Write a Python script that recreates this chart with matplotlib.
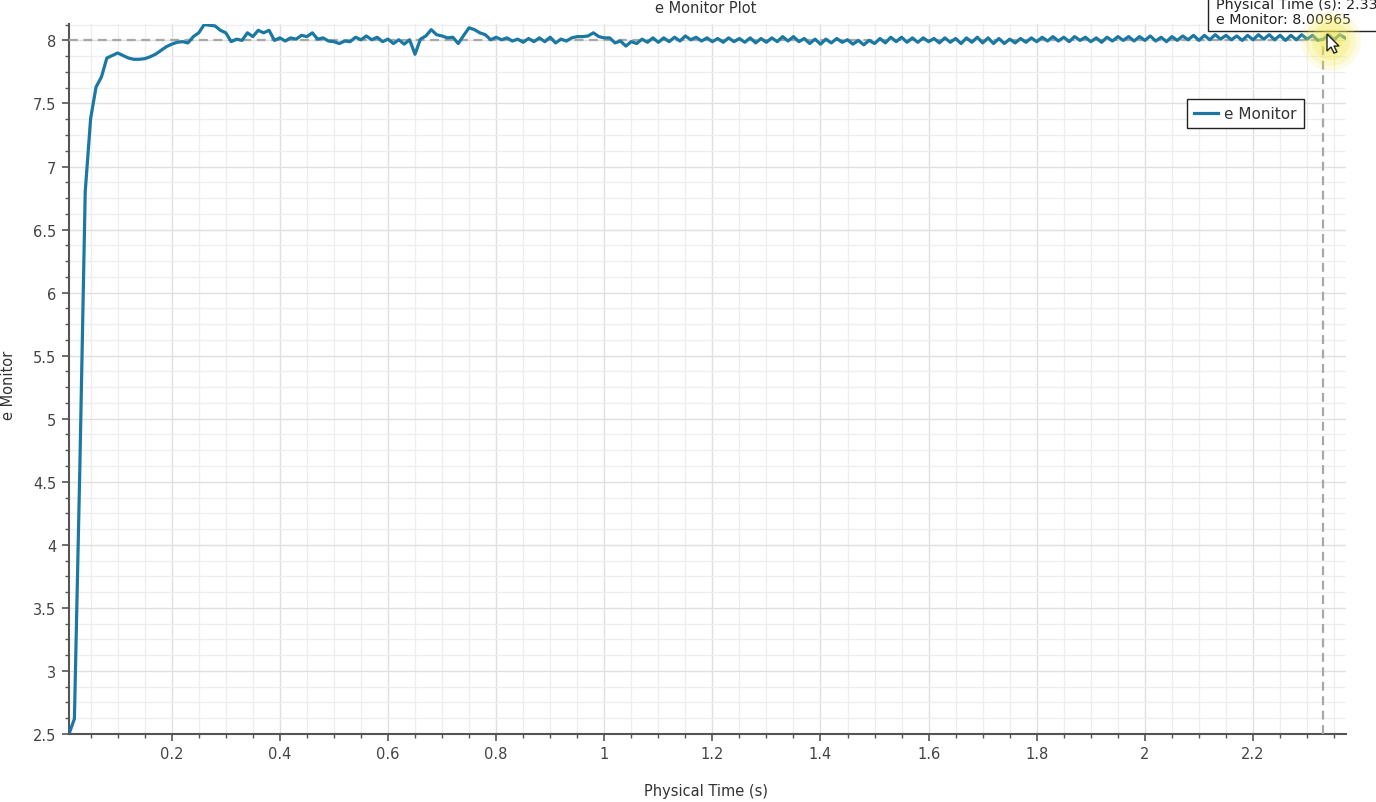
import matplotlib
matplotlib.use("Agg")
import matplotlib.pyplot as plt
from matplotlib.ticker import MultipleLocator, FuncFormatter
from matplotlib.patches import Circle, Rectangle, Polygon
from matplotlib.transforms import IdentityTransform

# Monitor samples, one per time step (dt = 0.01 s, first sample at 0.01 s)
time_step = 0.01
ramp_up = [2.50, 2.62, 4.60, 6.80, 7.38, 7.63, 7.71, 7.86, 7.88, 7.90,
           7.88, 7.86, 7.85, 7.85, 7.855, 7.87, 7.89, 7.92, 7.95, 7.97,
           7.985, 7.99, 7.98, 8.03, 8.06, 8.125, 8.12, 8.115, 8.08, 8.06,
           7.99, 8.01, 8.00, 8.06, 8.03, 8.08, 8.06, 8.08, 8.00, 8.02]
early_wobble = [7.995, 8.02, 8.01, 8.04, 8.03, 8.06, 8.01, 8.02, 7.995, 7.99,
                7.975, 7.995, 7.99, 8.025, 8.005, 8.035, 8.005, 8.025, 7.99, 8.01,
                7.975, 8.005, 7.97, 8.005, 7.89, 8.01, 8.035, 8.085, 8.045, 8.035,
                8.02, 8.025, 7.975, 8.04, 8.10, 8.085, 8.06, 8.045, 8.005, 8.025,
                8.005, 8.02, 7.995]
settled_a = [8.01, 7.985, 8.015, 7.99, 8.02, 7.99, 8.025, 7.98, 8.01, 7.995,
             8.02, 8.03, 8.03, 8.035, 8.06, 8.03, 8.02, 8.02, 7.98, 7.995,
             7.955, 7.99, 7.975, 8.01, 7.985, 8.02, 7.985, 8.02, 7.99, 8.025,
             7.995, 8.035, 8.005, 8.025, 7.995, 8.02, 7.99, 8.015, 7.985, 8.02,
             7.99, 8.015, 7.985, 8.02, 7.98]
settled_b = [8.015, 7.985, 8.02, 7.99, 8.03, 7.995, 8.03, 7.99, 8.015, 7.975,
             8.01, 7.97, 8.01, 7.98, 8.015, 7.985, 8.005, 7.97, 8.00, 7.965,
             8.00, 7.975, 8.015, 7.98, 8.025, 7.99, 8.025, 7.985, 8.02, 7.985,
             8.02, 7.99, 8.015, 7.98, 8.02, 7.985, 8.015, 7.975, 8.02, 7.985,
             8.025, 7.98]
settled_c = [8.02, 7.975, 8.015, 7.975, 8.01, 7.98, 8.015, 7.985, 8.02, 7.99,
             8.025, 7.995, 8.03, 7.995, 8.025, 7.99, 8.03, 8.00, 8.025, 7.99,
             8.02, 7.985, 8.025, 7.995, 8.03, 8.00, 8.03, 7.995, 8.03, 8.00,
             8.035, 7.995, 8.025, 7.99, 8.03, 8.00, 8.035, 8.005, 8.04, 8.00]
settled_d = [8.04, 8.005, 8.045, 8.01, 8.04, 8.005, 8.035, 8.00, 8.04, 8.005,
             8.045, 8.01, 8.045, 8.005, 8.04, 8.00, 8.04, 8.005, 8.045, 8.01,
             8.04, 8.00, 8.01, 8.045, 8.005, 8.045, 8.02]

e_monitor = ramp_up + early_wobble + settled_a + settled_b + settled_c + settled_d
physical_time = [round(time_step * (i + 1), 2) for i in range(len(e_monitor))]

# Cursor readout shown in the tooltip
cursor_time = 2.33
cursor_value = 8.00965

W, H = 1376, 803
fig = plt.figure(figsize=(W / 100, H / 100), dpi=100)
ax = fig.add_axes([69 / W, 1 - 735 / H, (1346 - 69) / W, (735 - 25) / H])

line_color = "#1b78a2"
ax.plot(physical_time, e_monitor, color=line_color, lw=2.3, zorder=4,
        solid_joinstyle="round", label="e Monitor")

# crosshair
ax.plot([physical_time[0], cursor_time], [8.0, 8.0],
        color="#a8a8a8", lw=1.6, dashes=(4, 2.5), zorder=3)
ax.plot([cursor_time, cursor_time], [2.5, 8.0],
        color="#a8a8a8", lw=1.6, dashes=(4, 2.5), zorder=3)

ax.set_xlim(0.01, 2.372)
ax.set_ylim(2.5, 8.13)

ax.xaxis.set_major_locator(MultipleLocator(0.2))
ax.xaxis.set_minor_locator(MultipleLocator(0.05))
ax.yaxis.set_major_locator(MultipleLocator(0.5))
ax.yaxis.set_minor_locator(MultipleLocator(0.125))
fmt = FuncFormatter(lambda v, p: f"{v:g}")
ax.xaxis.set_major_formatter(fmt)
ax.yaxis.set_major_formatter(fmt)

ax.grid(which="major", color="#e0e0e0", lw=1.0, zorder=0)
ax.grid(which="minor", color="#eeeeee", lw=0.9, zorder=0)
ax.set_axisbelow(True)

for s in ["top", "right"]:
    ax.spines[s].set_visible(False)
for s in ["left", "bottom"]:
    ax.spines[s].set_color("#555555")
    ax.spines[s].set_linewidth(1.5)

ax.tick_params(which="major", length=5, width=1.2, color="#555555",
               labelcolor="#444444", labelsize=10.5, pad=4)
ax.tick_params(which="minor", length=3, width=1.0, color="#555555")

leg = ax.legend(loc="upper right", bbox_to_anchor=(0.967, 0.894),
                borderaxespad=0, fancybox=False, framealpha=1,
                edgecolor="#222222", fontsize=11, handlelength=1.6,
                borderpad=0.45, handletextpad=0.4)
leg.get_frame().set_linewidth(1.0)
for t in leg.get_texts():
    t.set_color("#333333")

# labels and title (cut at the top edge in the original)
fig.text(706 / W, 1 - 792 / H, "Physical Time (s)", ha="center", va="center",
         fontsize=10.5, color="#333333")
fig.text(9 / W, 1 - 385 / H, "e Monitor", ha="center", va="center",
         rotation=90, fontsize=10.5, color="#333333")
fig.text(706 / W, 1 - 1 / H, "e Monitor Plot", ha="center", va="top",
         fontsize=10.5, color="#333333")

# tooltip box
tip = Rectangle((1208, H - 32), 220, 50, transform=IdentityTransform(),
                facecolor="white", edgecolor="#222222", lw=1.0, zorder=5)
fig.add_artist(tip)
fig.text(1216 / W, 1 - 5 / H, "Physical Time (s): 2.33", ha="left", va="center",
         fontsize=10.3, color="#222222", zorder=6)
fig.text(1216 / W, 1 - 20 / H, f"e Monitor: {cursor_value}", ha="left",
         va="center", fontsize=10.3, color="#222222", zorder=6)

# cursor glow
for r, a in [(30, 0.14), (25, 0.2), (19, 0.25), (12, 0.3)]:
    fig.add_artist(Circle((1331, H - 42), r, transform=IdentityTransform(),
                          facecolor="#f3e84a", edgecolor="none", alpha=a,
                          zorder=8))

# mouse pointer
tx, ty = 1327, H - 35
pts = [(0, 0), (0, -17), (4, -13), (7, -19), (10, -18), (7, -12), (12, -12)]
fig.add_artist(Polygon([(tx + dx, ty + dy) for dx, dy in pts], closed=True,
                       transform=IdentityTransform(), facecolor="white",
                       edgecolor="#222222", lw=1.0, zorder=9))

fig.savefig("out.png", dpi=100)
